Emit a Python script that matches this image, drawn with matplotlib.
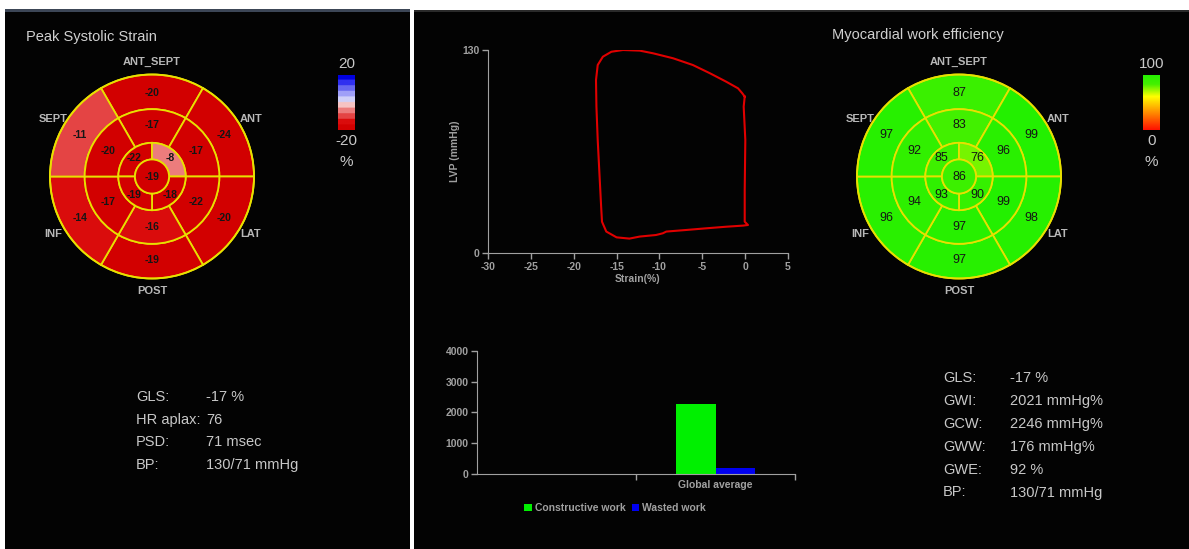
import numpy as np
import matplotlib
matplotlib.use("Agg")
import matplotlib.pyplot as plt
from matplotlib.patches import Wedge, Circle, Rectangle
from matplotlib.colors import ListedColormap, BoundaryNorm, LinearSegmentedColormap, Normalize

plt.rcParams['font.family'] = ['Liberation Sans', 'DejaVu Sans']
plt.rcParams['axes.unicode_minus'] = False

W, H = 1189, 549

# ---- data ----
walls = ["ANT_SEPT", "ANT", "LAT", "POST", "INF", "SEPT"]
wall_angles = [90, 30, -30, -90, -150, 150]
apical_angles = [135, 45, -45, -135]

strain_basal = [-20, -24, -20, -19, -14, -11]
strain_mid = [-17, -17, -22, -16, -17, -20]
strain_apical = [-22, -8, -18, -19]
strain_apex = -19

mwe_basal = [87, 99, 98, 97, 96, 97]
mwe_mid = [83, 96, 99, 97, 94, 92]
mwe_apical = [85, 76, 90, 93]
mwe_apex = 86

# pressure-strain loop
loop_strain = [-0.05, -0.33, -0.83, -2.2, -4.1, -6.1, -8.4, -10.75, -12.3, -14.25, -15.6,
               -16.6, -17.2, -17.4, -17.35, -17.2, -17.0, -16.8, -16.7, -16.2, -15.0, -13.5,
               -12.3, -10.4, -9.6, -9.2, -6.9, -4.5, -2.2, -0.25, 0.33, -0.05, -0.05, 0.02,
               -0.17, -0.05]
loop_lvp = [100.2, 102.3, 105.5, 109.7, 115.1, 120.4, 124.7, 127.9, 129.6, 130.0, 128.9,
            125.7, 120.4, 110.8, 93.8, 72.5, 51.1, 29.8, 20.2, 13.9, 10.2, 9.4,
            10.7, 11.7, 12.8, 13.9, 14.9, 16.0, 17.0, 17.7, 18.1, 20.2, 40.5, 72.5,
            93.8, 100.2]

bar_categories = ["", "Global average"]
constructive = [0, 2280]
wasted = [0, 195]

left_labels = ["GLS:", "HR aplax:", "PSD:", "BP:"]
left_values = ["-17 %", "76", "71 msec", "130/71 mmHg"]
right_labels = ["GLS:", "GWI:", "GCW:", "GWW:", "GWE:", "BP:"]
right_values = ["-17 %", "2021 mmHg%", "2246 mmHg%", "176 mmHg%", "92 %", "130/71 mmHg"]

# ---- colour maps ----
strain_colors = ['#d20000', '#da0c0c', '#e44444', '#ec7c7c', '#f6c4c4',
                 '#d0d0f8', '#a0a0f8', '#6868f0', '#3030f0', '#0000e0']
strain_cmap = ListedColormap(strain_colors)
strain_norm = BoundaryNorm(np.linspace(-20, 20, 11), strain_cmap.N, clip=True)

mwe_cmap = LinearSegmentedColormap.from_list(
    "mwe", [(0.0, '#ff1000'), (0.3, '#ff8800'), (0.6, '#ffff00'),
            (0.82, '#44f000'), (1.0, '#22f000')])
mwe_norm = Normalize(0, 100)

grey = '#a0a0a0'
text_grey = '#c8c8c8'


def add_ax(l, t, r, b):
    return fig.add_axes([l / W, 1 - b / H, (r - l) / W, (b - t) / H])


fig = plt.figure(figsize=(W / 100, H / 100), dpi=100, facecolor='white')

# panel backgrounds
bg = fig.add_axes([0, 0, 1, 1])
bg.set_xlim(0, W)
bg.set_ylim(H, 0)
bg.axis('off')
bg.add_patch(Rectangle((5, 9), 405, 540, facecolor='#030303', edgecolor='none'))
bg.add_patch(Rectangle((5, 9), 405, 3, facecolor='#3c4656', edgecolor='none'))
bg.add_patch(Rectangle((414, 10), 775, 539, facecolor='#030303', edgecolor='none'))
bg.add_patch(Rectangle((414, 10), 775, 2, facecolor='#2a2a2a', edgecolor='none'))


def bullseye(cx, cy, R, basal, mid, apical, apex, cmap, norm, fs, fw):
    s = 1.3
    ax = add_ax(cx - s * R, cy - s * R, cx + s * R, cy + s * R)
    ax.set_xlim(-s, s)
    ax.set_ylim(-s, s)
    ax.axis('off')
    r1, r2, r3, r4 = 1.0, 0.66, 0.33, 0.167
    ec = '#e8e000'
    for i, a in enumerate(wall_angles):
        ax.add_patch(Wedge((0, 0), r1, a - 30, a + 30, width=r1 - r2,
                           facecolor=cmap(norm(basal[i])), edgecolor=ec, lw=1.3))
        ax.add_patch(Wedge((0, 0), r2, a - 30, a + 30, width=r2 - r3,
                           facecolor=cmap(norm(mid[i])), edgecolor=ec, lw=1.3))
        t = np.deg2rad(a)
        ax.text(0.82 * np.cos(t), 0.82 * np.sin(t), str(basal[i]), ha='center', va='center',
                fontsize=fs, color='#151515', fontweight=fw)
        ax.text(0.5 * np.cos(t), 0.5 * np.sin(t), str(mid[i]), ha='center', va='center',
                fontsize=fs, color='#151515', fontweight=fw)
        ax.text(1.12 * np.cos(t), 1.12 * np.sin(t), walls[i], ha='center', va='center',
                fontsize=8, color='#b8b8b8', fontweight='bold')
    for i, a in enumerate(apical_angles):
        ax.add_patch(Wedge((0, 0), r3, a - 45, a + 45, width=r3 - r4,
                           facecolor=cmap(norm(apical[i])), edgecolor=ec, lw=1.3))
        t = np.deg2rad(a)
        ax.text(0.25 * np.cos(t), 0.25 * np.sin(t), str(apical[i]), ha='center', va='center',
                fontsize=fs, color='#151515', fontweight=fw)
    ax.add_patch(Circle((0, 0), r4, facecolor=cmap(norm(apex)), edgecolor=ec, lw=1.3))
    ax.text(0, 0, str(apex), ha='center', va='center', fontsize=fs, color='#151515', fontweight=fw)
    ax.add_patch(Circle((0, 0), r1, facecolor='none', edgecolor=ec, lw=1.3))


bullseye(152, 176.5, 102, strain_basal, strain_mid, strain_apical, strain_apex,
         strain_cmap, strain_norm, 7.5, 'bold')
bullseye(959, 176.5, 102, mwe_basal, mwe_mid, mwe_apical, mwe_apex,
         mwe_cmap, mwe_norm, 9, 'normal')


def colorbar(l, r, top_txt, bot_txt, cmap, norm, vmin, vmax):
    cax = add_ax(l, 75, r, 130)
    vals = np.linspace(vmax, vmin, 200).reshape(-1, 1)
    cax.imshow(vals, aspect='auto', cmap=cmap, norm=norm)
    cax.axis('off')
    xc = (l + r) / 2
    fig.text(xc / W, 1 - 64 / H, top_txt, ha='center', va='center', fontsize=11, color=text_grey)
    fig.text(xc / W, 1 - 141 / H, bot_txt, ha='center', va='center', fontsize=11, color=text_grey)
    fig.text(xc / W, 1 - 162 / H, "%", ha='center', va='center', fontsize=11, color=text_grey)


colorbar(338, 355, "20", "-20", strain_cmap, strain_norm, -20, 20)
colorbar(1143, 1160, "100", "0", mwe_cmap, mwe_norm, 0, 100)

fig.text(26 / W, 1 - 37 / H, "Peak Systolic Strain", ha='left', va='center',
         fontsize=10.5, color='#d0d0d0')
fig.text(832 / W, 1 - 35 / H, "Myocardial work efficiency", ha='left', va='center',
         fontsize=10.5, color='#d0d0d0')

# ---- pressure-strain loop ----
pv = add_ax(488, 50, 788, 253.3)
pv.set_facecolor('none')
pv.plot(loop_strain, loop_lvp, color='#e00000', lw=1.5)
pv.set_xlim(-30, 5)
pv.set_ylim(0, 130)
pv.set_xticks(np.arange(-30, 6, 5))
pv.set_yticks([0, 130])
for sp in ['top', 'right']:
    pv.spines[sp].set_visible(False)
for sp in ['left', 'bottom']:
    pv.spines[sp].set_color(grey)
pv.tick_params(colors=grey, labelsize=7.5, length=4, width=1, pad=2)
for lab in pv.get_xticklabels() + pv.get_yticklabels():
    lab.set_fontweight('bold')
pv.set_xlabel("Strain(%)", color=grey, fontsize=7.5, fontweight='bold', labelpad=2)
pv.set_ylabel("LVP (mmHg)", color=grey, fontsize=7.5, fontweight='bold', labelpad=2)

# ---- work bar chart ----
bx = add_ax(477, 350.7, 795, 474)
bx.set_facecolor('none')
pos = np.arange(len(bar_categories))
bx.bar(pos - 0.125, constructive, width=0.25, color='#00f000', label='Constructive work')
bx.bar(pos + 0.125, wasted, width=0.25, color='#0000f0', label='Wasted work')
bx.set_xlim(-0.5, 1.5)
bx.set_ylim(0, 4000)
bx.set_yticks([0, 1000, 2000, 3000, 4000])
bx.set_xticks([0.5, 1.5])
bx.set_xticklabels([])
bx.set_xticks(pos, minor=True)
bx.set_xticklabels(bar_categories, minor=True)
for sp in ['top', 'right']:
    bx.spines[sp].set_visible(False)
for sp in ['left', 'bottom']:
    bx.spines[sp].set_color(grey)
bx.tick_params(which='both', colors=grey, labelsize=7.5, length=4, width=1, pad=2)
bx.tick_params(axis='x', which='minor', length=0, pad=4)
for lab in bx.get_yticklabels() + bx.get_xticklabels(minor=True):
    lab.set_fontweight('bold')
leg = bx.legend(loc='center', bbox_to_anchor=(0.434, -0.276), ncol=2, frameon=False,
                handlelength=0.7, handleheight=0.7, handletextpad=0.3, columnspacing=0.6,
                prop={'size': 7.5, 'weight': 'bold'})
for t in leg.get_texts():
    t.set_color(grey)

# ---- summary text ----
for i, (lab, val) in enumerate(zip(left_labels, left_values)):
    y = 397 + i * 22.7
    fig.text(136 / W, 1 - y / H, lab, ha='left', va='center', fontsize=10.5, color=text_grey)
    fig.text(206 / W, 1 - y / H, val, ha='left', va='center', fontsize=10.5, color=text_grey)
for i, (lab, val) in enumerate(zip(right_labels, right_values)):
    y = 378.5 + i * 22.8
    fig.text(943 / W, 1 - y / H, lab, ha='left', va='center', fontsize=10.5, color=text_grey)
    fig.text(1010 / W, 1 - y / H, val, ha='left', va='center', fontsize=10.5, color=text_grey)

fig.savefig("out.png", dpi=100, facecolor='white')
